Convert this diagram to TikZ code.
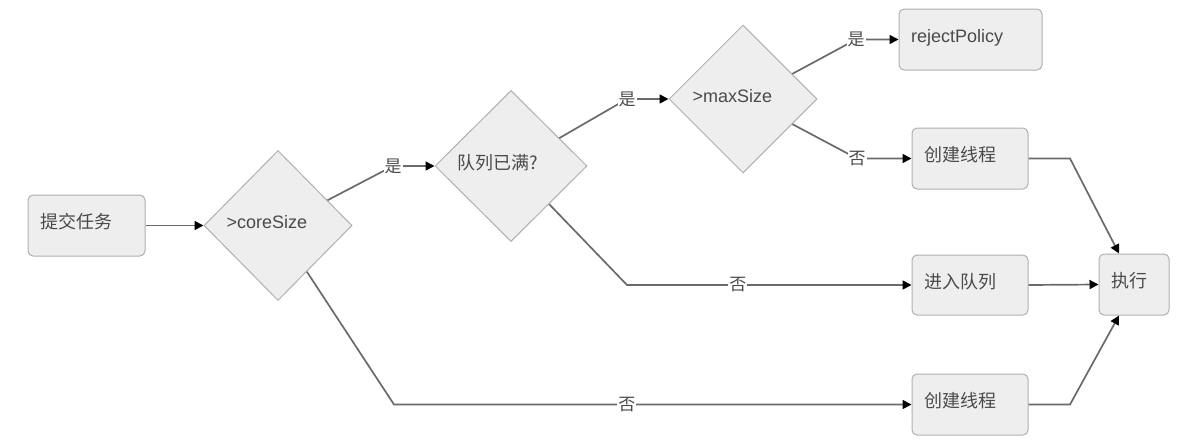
\documentclass[tikz,border=0pt]{standalone}
\usepackage{fontspec}
\setmainfont{Liberation Sans}
\newfontfamily\cjk{Noto Sans CJK SC}
\usetikzlibrary{arrows.meta,shapes.geometric}
\definecolor{boxfill}{HTML}{EEEEEE}
\definecolor{boxline}{HTML}{B0B0B0}
\definecolor{txtc}{HTML}{4A4A4A}
\definecolor{edgec}{HTML}{6A6A6A}
\begin{document}
\begin{tikzpicture}[x=1pt,y=-1pt,
  box/.style={draw=boxline, fill=boxfill, rounded corners=5pt, line width=1pt,
    minimum height=61pt, inner xsep=12pt, inner ysep=0pt, align=left, text=txtc,
    text height=12pt, text depth=6pt, font=\fontsize{18}{20}\selectfont\cjk},
  dia/.style={draw=boxline, fill=boxfill, diamond, line width=1pt, inner sep=0pt},
  dtxt/.style={anchor=west, inner sep=0pt, text=txtc, text height=12pt, text depth=6pt,
    font=\fontsize{18}{20}\selectfont},
  edge/.style={draw=edgec, line width=1.7pt, -{Triangle[length=9pt,width=9pt,color=black]}},
  lbl/.style={fill=white, inner sep=1pt, text=txtc, font=\fontsize{17}{18}\selectfont\cjk}
]
\useasboundingbox (0,0) rectangle (1182,439);

% boxes
\node[box, minimum width=117pt, text width=93pt] (a) at (86.5,225.5) {提交任务};
\node[box, minimum width=143pt, text width=119pt] (r) at (970.5,39.5) {\rmfamily rejectPolicy};
\node[box, minimum width=116pt, text width=92pt] (ct) at (970,158.5) {创建线程};
\node[box, minimum width=116pt, minimum height=60pt, text width=92pt] (q) at (970,285) {进入队列};
\node[box, minimum width=70pt, text width=46pt] (x) at (1134,284.5) {执行};
\node[box, minimum width=116pt, text width=92pt] (cb) at (970,404.5) {创建线程};

% diamonds
\node[dia, minimum width=148pt, minimum height=150pt] (c1) at (278,225.5) {};
\node[dia, minimum width=152pt, minimum height=151pt] (c2) at (511,166) {};
\node[dia, minimum width=148pt, minimum height=148pt] (c3) at (743,99) {};
\node[dtxt] (t1) at ([xshift=23pt]c1.west) {>coreSize};
\node[dtxt] (t2) at ([xshift=23pt]c2.west) {\cjk 队列已满?};
\node[dtxt] (t3) at ([xshift=24pt]c3.west) {>maxSize};

% connectors
\draw[edge] (a.east) -- (c1.west);
\draw[edge] (c1.27) -- (393,166) node[lbl] (l1) {是} -- (c2.west);
\draw[edge] (c2.30) -- (627,99) node[lbl] (l2) {是} -- (c3.west);
\draw[edge] (c3.27) -- (856,39.5) node[lbl] (l3) {是} -- (r.west);
\draw[edge] (c3.-27) -- (857,158.5) node[lbl] (l4) {否} -- (ct.west);
\draw[edge] (c2.-45) -- (627,285) -- (q.west) node[lbl, pos=0.39] (l5) {否};
\draw[edge] (c1.-58) -- (394,404.5) -- (cb.west) node[lbl, pos=0.45] (l6) {否};
\draw[edge] (ct.east) -- (1070,158.5) -- ([xshift=-15pt]x.north);
\draw[edge] (q.east) -- (x.west);
\draw[edge] (cb.east) -- (1070,404.5) -- ([xshift=-15pt]x.south);
\end{tikzpicture}
\end{document}
